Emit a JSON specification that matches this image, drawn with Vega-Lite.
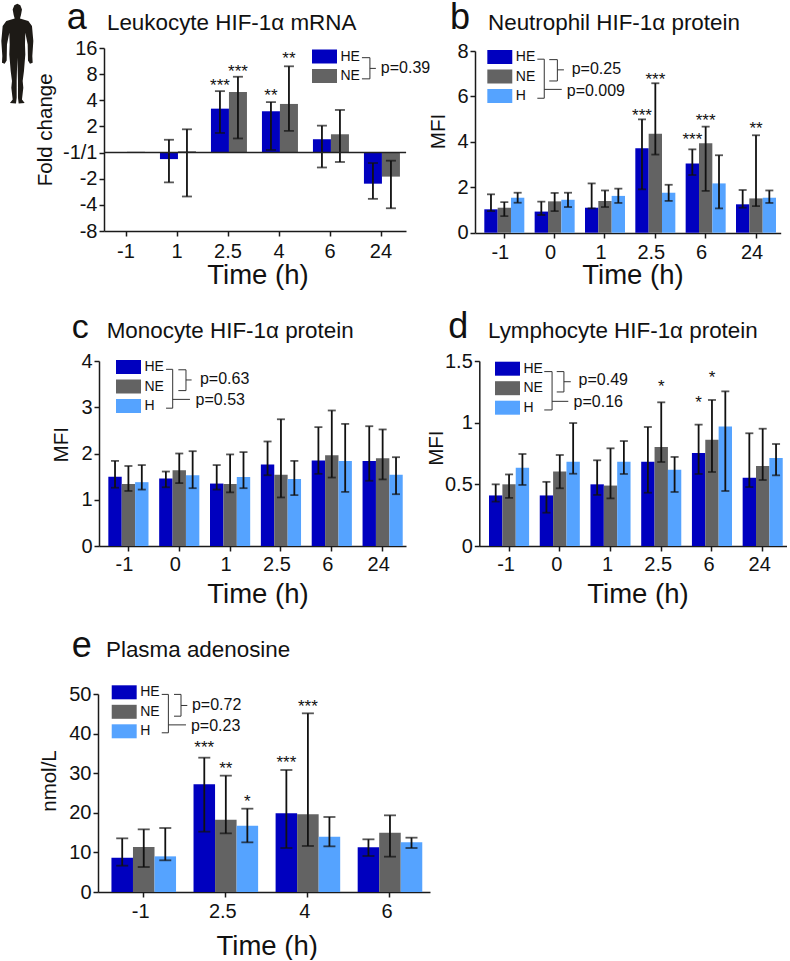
{
"$schema":"https://vega.github.io/schema/vega-lite/v6.json",
"padding":{"left":1,"top":0,"right":0,"bottom":0},
"background":"white",
"columns":2,
"bounds":"flush",
"align":"each",
"spacing":{"row":128,"column":45},
"resolve":{"scale":{"color":"independent","xOffset":"independent"},"legend":{"color":"independent"}},
"config":{
 "view":{"stroke":null},
 "font":"Liberation Sans",
 "axis":{"grid":false,"labelFont":"Liberation Sans","titleFont":"Liberation Sans","labelFontSize":20,"labelColor":"#111111","titleColor":"#111111","titleFontWeight":"normal","domainColor":"#1a1a1a","tickColor":"#1a1a1a","domainWidth":1.5,"tickWidth":1.5,"tickSize":5,"labelOverlap":false,"labelBound":false},
 "axisX":{"labelAngle":0,"titleFontSize":27.5,"titleBaseline":"alphabetic"},
 "axisY":{"titleFontSize":20.5,"titleBaseline":"middle","labelPadding":2},
 "legend":{"labelFont":"Liberation Sans","labelFontSize":14,"labelColor":"#111111"}
},
"concat":[
{
 "width":332,"height":185,
 "resolve":{"scale":{"x":"independent"}},
 "layer":[
 {"data":{"values":[
  {"time":"-1","group":"HE","value":0},
  {"time":"-1","group":"NE","value":0.03},
  {"time":"1","group":"HE","value":-0.25,"lo":-1.14,"hi":0.49},
  {"time":"1","group":"NE","value":0.05,"lo":-1.68,"hi":0.89},
  {"time":"2.5","group":"HE","value":1.68,"lo":0.75,"hi":2.35,"stars":"***","star_y":2.68},
  {"time":"2.5","group":"NE","value":2.32,"lo":0.54,"hi":2.9,"stars":"***","star_y":3.21},
  {"time":"4","group":"HE","value":1.58,"lo":0.1,"hi":1.93,"stars":"**","star_y":2.27},
  {"time":"4","group":"NE","value":1.86,"lo":0.83,"hi":3.3,"stars":"**","star_y":3.7},
  {"time":"6","group":"HE","value":0.51,"lo":-0.57,"hi":1.03},
  {"time":"6","group":"NE","value":0.7,"lo":-0.36,"hi":1.63},
  {"time":"24","group":"HE","value":-1.19,"lo":-1.77,"hi":-0.4},
  {"time":"24","group":"NE","value":-0.92,"lo":-2.13,"hi":-0.31}
 ]},
 "encoding":{
  "x":{"field":"time","type":"nominal","scale":{"type":"band","domain":["-1","1","2.5","4","6","24"],"range":[6,308],"paddingInner":0.294,"paddingOuter":0.108,"align":0.45},"axis":{"title":"Time (h)","offset":-2,"titleX":159.5,"titleY":52,"labelOffset":-1,"labelPadding":5}},
  "xOffset":{"field":"group","type":"nominal","scale":{"domain":["HE","NE"]}}
 },
 "layer":[
  {"mark":{"type":"bar"},"encoding":{
   "y":{"field":"value","type":"quantitative","scale":{"domain":[-3,4],"range":[183,0],"nice":false,"zero":false},"axis":{"title":"Fold change","values":[-3,-2,-1,0,1,2,3,4],"tickCount":8,"labelOverlap":false,"labelExpr":"datum.value==0?'-1/1':(datum.value>0?''+pow(2,datum.value):'-'+pow(2,-datum.value))","offset":-6,"titleX":-59,"titleY":81.3}},
   "color":{"field":"group","type":"nominal","scale":{"domain":["HE","NE"],"range":["#0000BF","#636363"]},"legend":{"title":null,"orient":"none","legendX":218.5,"legendY":0.5,"symbolType":"M-1.56,-0.875H1.56V0.875H-1.56Z","symbolSize":256,"labelOffset":8,"rowPadding":4.5,"padding":0,"symbolStrokeWidth":0}}
  }},
  {"mark":{"type":"rule","color":"#111111","strokeWidth":1.8},"encoding":{"y":{"field":"lo","type":"quantitative"},"y2":{"field":"hi"}}},
  {"mark":{"type":"tick","color":"#111111","size":10,"thickness":1.8},"encoding":{"y":{"field":"lo","type":"quantitative"}}},
  {"mark":{"type":"tick","color":"#111111","size":10,"thickness":1.8},"encoding":{"y":{"field":"hi","type":"quantitative"}}},
  {"mark":{"type":"text","fontSize":17,"color":"#111111","baseline":"middle","dy":3},"encoding":{"y":{"field":"star_y","type":"quantitative"},"text":{"field":"stars"}}}
 ]},
 {"encoding":{
  "x":{"field":"ax","type":"quantitative","scale":{"domain":[0,100],"range":[0,332]},"axis":null},
  "y":{"field":"ay","type":"quantitative"}
 },
 "layer":[
  {"data":{"values":[{"ax":1.8,"ax2":92.8,"ay":0}]},"mark":{"type":"rule","color":"#222222","strokeWidth":1.5},"encoding":{"x2":{"field":"ax2"}}},
  {"data":{"values":[
   {"id":"b1","ord":1,"ax":79.5,"ay":3.63},{"id":"b1","ord":2,"ax":81.9,"ay":3.63},{"id":"b1","ord":3,"ax":81.9,"ay":2.82},{"id":"b1","ord":4,"ax":79.5,"ay":2.82},
   {"id":"s1","ord":1,"ax":81.9,"ay":3.22},{"id":"s1","ord":2,"ax":83.7,"ay":3.22}
  ]},"mark":{"type":"line","color":"#333333","strokeWidth":1},"encoding":{"detail":{"field":"id"},"order":{"field":"ord","type":"quantitative"}}},
  {"data":{"values":[{"ax":85.2,"ay":3.22,"label":"p=0.39"}]},"mark":{"type":"text","fontSize":16,"align":"left","baseline":"middle","color":"#111111"},"encoding":{"text":{"field":"label"}}},
  {"data":{"values":[{"ax":2.7,"ay":4.69,"label":"Leukocyte HIF-1α mRNA"}]},"mark":{"type":"text","fontSize":22.4,"align":"left","baseline":"alphabetic","color":"#111111"},"encoding":{"text":{"field":"label"}}},
  {"data":{"values":[{"ax":-9.4,"ay":4.71,"label":"a"}]},"mark":{"type":"text","fontSize":36,"align":"left","baseline":"alphabetic","color":"#111111"},"encoding":{"text":{"field":"label"}}},
  {"data":{"values":[{"ax":-24.3,"ay":3.78,"figure":"human"}]},"mark":{"type":"point","filled":true,"opacity":1,"color":"#1d1a16","size":10000,"strokeWidth":0,"shape":"M0,-1L0.06,-0.97L0.093,-0.887L0.073,-0.773L0.053,-0.707L0.22,-0.653L0.293,-0.553L0.32,-0.253L0.3,0.047L0.307,0.18L0.253,0.2L0.213,0.133L0.207,-0.187L0.16,-0.42L0.153,-0.187L0.16,0.013L0.133,0.347L0.107,0.547L0.12,0.68L0.093,0.913L0.147,0.987L0.027,0.993L0.013,0.88L0.013,0.547L0,0.08L-0.013,0.547L-0.013,0.88L-0.027,0.993L-0.147,0.987L-0.093,0.913L-0.12,0.68L-0.107,0.547L-0.133,0.347L-0.16,0.013L-0.153,-0.187L-0.16,-0.42L-0.207,-0.187L-0.213,0.133L-0.253,0.2L-0.307,0.18L-0.3,0.047L-0.32,-0.253L-0.293,-0.553L-0.22,-0.653L-0.053,-0.707L-0.073,-0.773L-0.093,-0.887L-0.06,-0.97Z"}}
 ]}
 ]
},
{
 "width":312,"height":185,
 "resolve":{"scale":{"x":"independent"}},
 "layer":[
 {"data":{"values":[
  {"time":"-1","group":"HE","value":1.03,"lo":0.95,"hi":1.69},
  {"time":"-1","group":"NE","value":1.1,"lo":0.73,"hi":1.35},
  {"time":"-1","group":"H","value":1.54,"lo":1.32,"hi":1.76},
  {"time":"0","group":"HE","value":0.93,"lo":0.78,"hi":1.37},
  {"time":"0","group":"NE","value":1.38,"lo":0.95,"hi":1.75},
  {"time":"0","group":"H","value":1.45,"lo":1.13,"hi":1.76},
  {"time":"1","group":"HE","value":1.1,"lo":1.07,"hi":2.17},
  {"time":"1","group":"NE","value":1.4,"lo":1.13,"hi":1.86},
  {"time":"1","group":"H","value":1.62,"lo":1.31,"hi":1.94},
  {"time":"2.5","group":"HE","value":3.72,"lo":1.91,"hi":4.99,"stars":"***","star_y":5.29},
  {"time":"2.5","group":"NE","value":4.36,"lo":3.44,"hi":6.58,"stars":"***","star_y":6.86},
  {"time":"2.5","group":"H","value":1.76,"lo":1.4,"hi":2.11},
  {"time":"6","group":"HE","value":3.05,"lo":2.54,"hi":3.67,"stars":"***","star_y":4.21},
  {"time":"6","group":"NE","value":3.94,"lo":1.84,"hi":4.67,"stars":"***","star_y":5.04},
  {"time":"6","group":"H","value":2.17,"lo":1.07,"hi":3.41},
  {"time":"24","group":"HE","value":1.25,"lo":1.1,"hi":1.88},
  {"time":"24","group":"NE","value":1.51,"lo":1.17,"hi":4.29,"stars":"**","star_y":4.68},
  {"time":"24","group":"H","value":1.54,"lo":1.31,"hi":1.86}
 ]},
 "encoding":{
  "x":{"field":"time","type":"nominal","scale":{"type":"band","domain":["-1","0","1","2.5","6","24"],"range":[0,305.7],"paddingInner":0.205,"paddingOuter":0.139,"align":0.665},"axis":{"title":"Time (h)","titleX":157.5,"titleY":50.7,"labelOffset":-4,"labelPadding":4}},
  "xOffset":{"field":"group","type":"nominal","scale":{"domain":["HE","NE","H"]}}
 },
 "layer":[
  {"mark":{"type":"bar"},"encoding":{
   "y":{"field":"value","type":"quantitative","scale":{"domain":[0,8],"range":[184.7,3],"nice":false},"axis":{"title":"MFI","values":[0,2,4,6,8],"tickCount":5,"titleX":-36.7,"titleY":83}},
   "color":{"field":"group","type":"nominal","scale":{"domain":["HE","NE","H"],"range":["#0000BF","#636363","#55A3FF"]},"legend":{"title":null,"orient":"none","legendX":16.8,"legendY":1,"symbolType":"M-1.56,-0.875H1.56V0.875H-1.56Z","symbolSize":256,"labelOffset":8,"rowPadding":4.5,"padding":0,"symbolStrokeWidth":0}}
  }},
  {"mark":{"type":"rule","color":"#111111","strokeWidth":1.8},"encoding":{"y":{"field":"lo","type":"quantitative"},"y2":{"field":"hi"}}},
  {"mark":{"type":"tick","color":"#111111","size":8,"thickness":1.8},"encoding":{"y":{"field":"lo","type":"quantitative"}}},
  {"mark":{"type":"tick","color":"#111111","size":8,"thickness":1.8},"encoding":{"y":{"field":"hi","type":"quantitative"}}},
  {"mark":{"type":"text","fontSize":17,"color":"#111111","baseline":"middle","dy":3},"encoding":{"y":{"field":"star_y","type":"quantitative"},"text":{"field":"stars"}}}
 ]},
 {"encoding":{
  "x":{"field":"ax","type":"quantitative","scale":{"domain":[0,100],"range":[0,312]},"axis":null},
  "y":{"field":"ay","type":"quantitative"}
 },
 "layer":[
  {"data":{"values":[
   {"id":"b1","ord":1,"ax":19.98,"ay":7.64},{"id":"b1","ord":2,"ax":22.2,"ay":7.64},{"id":"b1","ord":3,"ax":22.2,"ay":5.92},{"id":"b1","ord":4,"ax":19.98,"ay":5.92},
   {"id":"s1","ord":1,"ax":22.2,"ay":6.31},{"id":"s1","ord":2,"ax":27.8,"ay":6.31},
   {"id":"b2","ord":1,"ax":23.8,"ay":7.62},{"id":"b2","ord":2,"ax":26.4,"ay":7.62},{"id":"b2","ord":3,"ax":26.4,"ay":6.68},{"id":"b2","ord":4,"ax":23.8,"ay":6.68},
   {"id":"s2","ord":1,"ax":26.4,"ay":7.17},{"id":"s2","ord":2,"ax":28.5,"ay":7.17}
  ]},"mark":{"type":"line","color":"#333333","strokeWidth":1},"encoding":{"detail":{"field":"id"},"order":{"field":"ord","type":"quantitative"}}},
  {"data":{"values":[{"ax":31,"ay":7.2,"label":"p=0.25"},{"ax":29.4,"ay":6.24,"label":"p=0.009"}]},"mark":{"type":"text","fontSize":16,"align":"left","baseline":"middle","color":"#111111"},"encoding":{"text":{"field":"label"}}},
  {"data":{"values":[{"ax":4.17,"ay":8.91,"label":"Neutrophil HIF-1α protein"}]},"mark":{"type":"text","fontSize":22.4,"align":"left","baseline":"alphabetic","color":"#111111"},"encoding":{"text":{"field":"label"}}},
  {"data":{"values":[{"ax":-8,"ay":8.96,"label":"b"}]},"mark":{"type":"text","fontSize":36,"align":"left","baseline":"alphabetic","color":"#111111"},"encoding":{"text":{"field":"label"}}}
 ]}
 ]
},
{
 "width":332,"height":185,
 "resolve":{"scale":{"x":"independent"}},
 "layer":[
 {"data":{"values":[
  {"time":"-1","group":"HE","value":1.5,"lo":1.26,"hi":1.84},
  {"time":"-1","group":"NE","value":1.34,"lo":1.19,"hi":1.73},
  {"time":"-1","group":"H","value":1.38,"lo":1.22,"hi":1.75},
  {"time":"0","group":"HE","value":1.46,"lo":1.27,"hi":1.61},
  {"time":"0","group":"NE","value":1.64,"lo":1.36,"hi":2},
  {"time":"0","group":"H","value":1.53,"lo":1.25,"hi":2.05},
  {"time":"1","group":"HE","value":1.35,"lo":1.22,"hi":1.75},
  {"time":"1","group":"NE","value":1.34,"lo":1.16,"hi":1.98},
  {"time":"1","group":"H","value":1.49,"lo":1.25,"hi":2.03},
  {"time":"2.5","group":"HE","value":1.76,"lo":1.53,"hi":2.26},
  {"time":"2.5","group":"NE","value":1.54,"lo":1.05,"hi":2.74},
  {"time":"2.5","group":"H","value":1.45,"lo":1.1,"hi":1.84},
  {"time":"6","group":"HE","value":1.85,"lo":1.56,"hi":2.57},
  {"time":"6","group":"NE","value":1.96,"lo":1.48,"hi":2.93},
  {"time":"6","group":"H","value":1.84,"lo":1.17,"hi":2.64},
  {"time":"24","group":"HE","value":1.84,"lo":1.41,"hi":2.59},
  {"time":"24","group":"NE","value":1.9,"lo":1.44,"hi":2.52},
  {"time":"24","group":"H","value":1.54,"lo":1.12,"hi":1.92}
 ]},
 "encoding":{
  "x":{"field":"time","type":"nominal","scale":{"type":"band","domain":["-1","0","1","2.5","6","24"],"range":[1,308],"paddingInner":0.21,"paddingOuter":0.124,"align":0.74},"axis":{"title":"Time (h)","titleX":159.5,"titleY":56.7,"labelOffset":-4,"labelPadding":3}},
  "xOffset":{"field":"group","type":"nominal","scale":{"domain":["HE","NE","H"]}}
 },
 "layer":[
  {"mark":{"type":"bar"},"encoding":{
   "y":{"field":"value","type":"quantitative","scale":{"domain":[0,4],"range":[185,0],"nice":false},"axis":{"title":"MFI","values":[0,1,2,3,4],"tickCount":5,"offset":-1,"titleX":-37.3,"titleY":83.3}},
   "color":{"field":"group","type":"nominal","scale":{"domain":["HE","NE","H"],"range":["#0000BF","#636363","#55A3FF"]},"legend":{"title":null,"orient":"none","legendX":22.5,"legendY":-2,"symbolType":"M-1.56,-0.875H1.56V0.875H-1.56Z","symbolSize":256,"labelOffset":8,"rowPadding":4.5,"padding":0,"symbolStrokeWidth":0}}
  }},
  {"mark":{"type":"rule","color":"#111111","strokeWidth":1.8},"encoding":{"y":{"field":"lo","type":"quantitative"},"y2":{"field":"hi"}}},
  {"mark":{"type":"tick","color":"#111111","size":8,"thickness":1.8},"encoding":{"y":{"field":"lo","type":"quantitative"}}},
  {"mark":{"type":"tick","color":"#111111","size":8,"thickness":1.8},"encoding":{"y":{"field":"hi","type":"quantitative"}}}
 ]},
 {"encoding":{
  "x":{"field":"ax","type":"quantitative","scale":{"domain":[0,100],"range":[0,332]},"axis":null},
  "y":{"field":"ay","type":"quantitative"}
 },
 "layer":[
  {"data":{"values":[
   {"id":"b1","ord":1,"ax":20.5,"ay":3.82},{"id":"b1","ord":2,"ax":22.5,"ay":3.82},{"id":"b1","ord":3,"ax":22.5,"ay":2.98},{"id":"b1","ord":4,"ax":20.5,"ay":2.98},
   {"id":"s1","ord":1,"ax":22.5,"ay":3.17},{"id":"s1","ord":2,"ax":27.7,"ay":3.17},
   {"id":"b2","ord":1,"ax":24.2,"ay":3.81},{"id":"b2","ord":2,"ax":26.5,"ay":3.81},{"id":"b2","ord":3,"ax":26.5,"ay":3.36},{"id":"b2","ord":4,"ax":24.2,"ay":3.36},
   {"id":"s2","ord":1,"ax":26.5,"ay":3.59},{"id":"s2","ord":2,"ax":28.2,"ay":3.59}
  ]},"mark":{"type":"line","color":"#333333","strokeWidth":1},"encoding":{"detail":{"field":"id"},"order":{"field":"ord","type":"quantitative"}}},
  {"data":{"values":[{"ax":30.7,"ay":3.62,"label":"p=0.63"},{"ax":29.4,"ay":3.15,"label":"p=0.53"}]},"mark":{"type":"text","fontSize":16,"align":"left","baseline":"middle","color":"#111111"},"encoding":{"text":{"field":"label"}}},
  {"data":{"values":[{"ax":2.62,"ay":4.5,"label":"Monocyte HIF-1α protein"}]},"mark":{"type":"text","fontSize":22.4,"align":"left","baseline":"alphabetic","color":"#111111"},"encoding":{"text":{"field":"label"}}},
  {"data":{"values":[{"ax":-7.9,"ay":4.5,"label":"c"}]},"mark":{"type":"text","fontSize":34,"align":"left","baseline":"alphabetic","color":"#111111"},"encoding":{"text":{"field":"label"}}}
 ]}
 ]
},
{
 "width":312,"height":185,
 "resolve":{"scale":{"x":"independent"}},
 "layer":[
 {"data":{"values":[
  {"time":"-1","group":"HE","value":0.41,"lo":0.36,"hi":0.5},
  {"time":"-1","group":"NE","value":0.5,"lo":0.39,"hi":0.58},
  {"time":"-1","group":"H","value":0.635,"lo":0.495,"hi":0.746},
  {"time":"0","group":"HE","value":0.41,"lo":0.27,"hi":0.52},
  {"time":"0","group":"NE","value":0.605,"lo":0.468,"hi":0.738},
  {"time":"0","group":"H","value":0.684,"lo":0.586,"hi":0.997},
  {"time":"1","group":"HE","value":0.5,"lo":0.414,"hi":0.695},
  {"time":"1","group":"NE","value":0.49,"lo":0.386,"hi":0.792},
  {"time":"1","group":"H","value":0.684,"lo":0.584,"hi":0.851},
  {"time":"2.5","group":"HE","value":0.684,"lo":0.432,"hi":0.965},
  {"time":"2.5","group":"NE","value":0.803,"lo":0.681,"hi":1.165,"stars":"*","star_y":1.316},
  {"time":"2.5","group":"H","value":0.619,"lo":0.438,"hi":0.722},
  {"time":"6","group":"HE","value":0.754,"lo":0.584,"hi":0.984,"stars":"*","star_y":1.181},
  {"time":"6","group":"NE","value":0.862,"lo":0.6,"hi":1.184,"stars":"*","star_y":1.386},
  {"time":"6","group":"H","value":0.968,"lo":0.446,"hi":1.254},
  {"time":"24","group":"HE","value":0.554,"lo":0.478,"hi":0.914},
  {"time":"24","group":"NE","value":0.649,"lo":0.535,"hi":0.951},
  {"time":"24","group":"H","value":0.714,"lo":0.573,"hi":0.827}
 ]},
 "encoding":{
  "x":{"field":"time","type":"nominal","scale":{"type":"band","domain":["-1","0","1","2.5","6","24"],"range":[4.3,311.7],"paddingInner":0.21,"paddingOuter":0.135,"align":0.71},"axis":{"title":"Time (h)","titleX":162.5,"titleY":56.7,"labelOffset":-3,"labelPadding":3}},
  "xOffset":{"field":"group","type":"nominal","scale":{"domain":["HE","NE","H"]}}
 },
 "layer":[
  {"mark":{"type":"bar"},"encoding":{
   "y":{"field":"value","type":"quantitative","scale":{"domain":[0,1.5],"range":[185,0],"nice":false},"axis":{"title":"MFI","values":[0,0.5,1,1.5],"tickCount":4,"format":"~g","offset":-4.3,"titleX":-42.6,"titleY":86.7}},
   "color":{"field":"group","type":"nominal","scale":{"domain":["HE","NE","H"],"range":["#0000BF","#636363","#55A3FF"]},"legend":{"title":null,"orient":"none","legendX":24.5,"legendY":-0.3,"symbolType":"M-1.56,-0.875H1.56V0.875H-1.56Z","symbolSize":256,"labelOffset":8,"rowPadding":4.5,"padding":0,"symbolStrokeWidth":0}}
  }},
  {"mark":{"type":"rule","color":"#111111","strokeWidth":1.8},"encoding":{"y":{"field":"lo","type":"quantitative"},"y2":{"field":"hi"}}},
  {"mark":{"type":"tick","color":"#111111","size":8,"thickness":1.8},"encoding":{"y":{"field":"lo","type":"quantitative"}}},
  {"mark":{"type":"tick","color":"#111111","size":8,"thickness":1.8},"encoding":{"y":{"field":"hi","type":"quantitative"}}},
  {"mark":{"type":"text","fontSize":17,"color":"#111111","baseline":"middle","dy":3},"encoding":{"y":{"field":"star_y","type":"quantitative"},"text":{"field":"stars"}}}
 ]},
 {"encoding":{
  "x":{"field":"ax","type":"quantitative","scale":{"domain":[0,100],"range":[0,312]},"axis":null},
  "y":{"field":"ay","type":"quantitative"}
 },
 "layer":[
  {"data":{"values":[
   {"id":"b1","ord":1,"ax":22.2,"ay":1.414},{"id":"b1","ord":2,"ax":24.7,"ay":1.414},{"id":"b1","ord":3,"ax":24.7,"ay":1.103},{"id":"b1","ord":4,"ax":22.2,"ay":1.103},
   {"id":"s1","ord":1,"ax":24.7,"ay":1.173},{"id":"s1","ord":2,"ax":29.9,"ay":1.173},
   {"id":"b2","ord":1,"ax":26.2,"ay":1.414},{"id":"b2","ord":2,"ax":28.5,"ay":1.414},{"id":"b2","ord":3,"ax":28.5,"ay":1.249},{"id":"b2","ord":4,"ax":26.2,"ay":1.249},
   {"id":"s2","ord":1,"ax":28.5,"ay":1.332},{"id":"s2","ord":2,"ax":30.7,"ay":1.332}
  ]},"mark":{"type":"line","color":"#333333","strokeWidth":1},"encoding":{"detail":{"field":"id"},"order":{"field":"ord","type":"quantitative"}}},
  {"data":{"values":[{"ax":33.2,"ay":1.343,"label":"p=0.49"},{"ax":31.6,"ay":1.165,"label":"p=0.16"}]},"mark":{"type":"text","fontSize":16,"align":"left","baseline":"middle","color":"#111111"},"encoding":{"text":{"field":"label"}}},
  {"data":{"values":[{"ax":4.17,"ay":1.689,"label":"Lymphocyte HIF-1α protein"}]},"mark":{"type":"text","fontSize":22.4,"align":"left","baseline":"alphabetic","color":"#111111"},"encoding":{"text":{"field":"label"}}},
  {"data":{"values":[{"ax":-8.6,"ay":1.689,"label":"d"}]},"mark":{"type":"text","fontSize":36,"align":"left","baseline":"alphabetic","color":"#111111"},"encoding":{"text":{"field":"label"}}}
 ]}
 ]
},
{
 "width":332,"height":218,
 "resolve":{"scale":{"x":"independent"}},
 "layer":[
 {"data":{"values":[
  {"time":"-1","group":"HE","value":8.67,"lo":6.65,"hi":13.55},
  {"time":"-1","group":"NE","value":11.36,"lo":6.31,"hi":15.82},
  {"time":"-1","group":"H","value":9,"lo":8,"hi":16.16},
  {"time":"2.5","group":"HE","value":27.19,"lo":15.24,"hi":33.92,"stars":"***","star_y":37.12},
  {"time":"2.5","group":"NE","value":18.27,"lo":14.81,"hi":29.38,"stars":"**","star_y":31.73},
  {"time":"2.5","group":"H","value":16.75,"lo":12.54,"hi":21.04,"stars":"*","star_y":23.57},
  {"time":"4","group":"HE","value":19.87,"lo":11.11,"hi":30.81,"stars":"***","star_y":33.42},
  {"time":"4","group":"NE","value":19.61,"lo":11.62,"hi":45.12,"stars":"***","star_y":47.47},
  {"time":"4","group":"H","value":13.97,"lo":11.53,"hi":18.94},
  {"time":"6","group":"HE","value":11.28,"lo":9.09,"hi":13.3},
  {"time":"6","group":"NE","value":14.98,"lo":8.92,"hi":19.36},
  {"time":"6","group":"H","value":12.54,"lo":11.11,"hi":13.72}
 ]},
 "encoding":{
  "x":{"field":"time","type":"nominal","scale":{"type":"band","domain":["-1","2.5","4","6"],"range":[0,332],"paddingInner":0.213,"paddingOuter":0.129,"align":0.635},"axis":{"title":"Time (h)","titleX":168.7,"titleY":62,"labelOffset":-3,"labelPadding":4.5}},
  "xOffset":{"field":"group","type":"nominal","scale":{"domain":["HE","NE","H"]}}
 },
 "layer":[
  {"mark":{"type":"bar"},"encoding":{
   "y":{"field":"value","type":"quantitative","scale":{"domain":[0,50],"range":[218,20],"nice":false},"axis":{"title":"nmol/L","values":[0,10,20,30,40,50],"tickCount":6,"titleX":-48.7,"titleY":106.5}},
   "color":{"field":"group","type":"nominal","scale":{"domain":["HE","NE","H"],"range":["#0000BF","#636363","#55A3FF"]},"legend":{"title":null,"orient":"none","legendX":18.2,"legendY":10.3,"symbolType":"M-1.56,-0.875H1.56V0.875H-1.56Z","symbolSize":256,"labelOffset":8,"rowPadding":4.5,"padding":0,"symbolStrokeWidth":0}}
  }},
  {"mark":{"type":"rule","color":"#111111","strokeWidth":1.8},"encoding":{"y":{"field":"lo","type":"quantitative"},"y2":{"field":"hi"}}},
  {"mark":{"type":"tick","color":"#111111","size":12,"thickness":1.8},"encoding":{"y":{"field":"lo","type":"quantitative"}}},
  {"mark":{"type":"tick","color":"#111111","size":12,"thickness":1.8},"encoding":{"y":{"field":"hi","type":"quantitative"}}},
  {"mark":{"type":"text","fontSize":17,"color":"#111111","baseline":"middle","dy":3},"encoding":{"y":{"field":"star_y","type":"quantitative"},"text":{"field":"stars"}}}
 ]},
 {"encoding":{
  "x":{"field":"ax","type":"quantitative","scale":{"domain":[0,100],"range":[0,332]},"axis":null},
  "y":{"field":"ay","type":"quantitative"}
 },
 "layer":[
  {"data":{"values":[
   {"id":"b1","ord":1,"ax":19.2,"ay":49.9},{"id":"b1","ord":2,"ax":21.2,"ay":49.9},{"id":"b1","ord":3,"ax":21.2,"ay":40.2},{"id":"b1","ord":4,"ax":19.2,"ay":40.2},
   {"id":"s1","ord":1,"ax":21.2,"ay":42.2},{"id":"s1","ord":2,"ax":26.5,"ay":42.2},
   {"id":"b2","ord":1,"ax":22.9,"ay":49.9},{"id":"b2","ord":2,"ax":25,"ay":49.9},{"id":"b2","ord":3,"ax":25,"ay":44.4},{"id":"b2","ord":4,"ax":22.9,"ay":44.4},
   {"id":"s2","ord":1,"ax":25,"ay":47.1},{"id":"s2","ord":2,"ax":26.9,"ay":47.1}
  ]},"mark":{"type":"line","color":"#333333","strokeWidth":1},"encoding":{"detail":{"field":"id"},"order":{"field":"ord","type":"quantitative"}}},
  {"data":{"values":[{"ax":28.3,"ay":47.1,"label":"p=0.72"},{"ax":28,"ay":41.9,"label":"p=0.23"}]},"mark":{"type":"text","fontSize":16,"align":"left","baseline":"middle","color":"#111111"},"encoding":{"text":{"field":"label"}}},
  {"data":{"values":[{"ax":2.41,"ay":59.26,"label":"Plasma adenosine"}]},"mark":{"type":"text","fontSize":22.4,"align":"left","baseline":"alphabetic","color":"#111111"},"encoding":{"text":{"field":"label"}}},
  {"data":{"values":[{"ax":-7.9,"ay":59.26,"label":"e"}]},"mark":{"type":"text","fontSize":36,"align":"left","baseline":"alphabetic","color":"#111111"},"encoding":{"text":{"field":"label"}}}
 ]}
 ]
}
]
}
